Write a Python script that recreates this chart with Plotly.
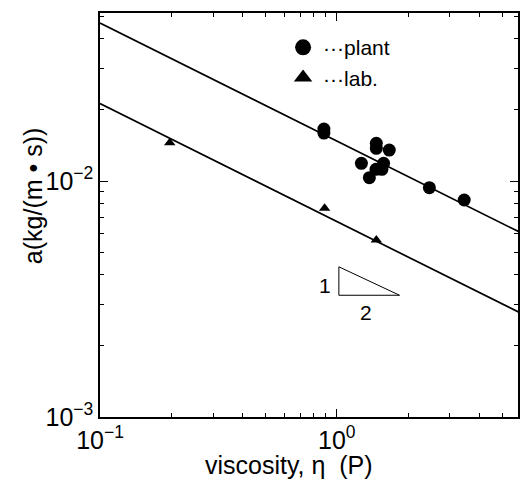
import plotly.graph_objects as go

# ---- data ----
plant_eta = [0.882, 0.882, 1.468, 1.468, 1.665, 1.27, 1.372, 1.576, 1.463, 1.55, 2.459, 3.45]
plant_a = [0.0166, 0.01596, 0.01445, 0.01376, 0.01353, 0.01188, 0.01033, 0.01189, 0.01121, 0.01121, 0.00937, 0.00831]

lab_eta = [0.197, 0.888, 1.468]
lab_a = [0.01453, 0.00766, 0.00562]

fit_eta = [0.1, 6.0]
fit_plant_a = [0.0467, 0.00603]
fit_lab_a = [0.0213, 0.00275]

slope_tri_eta = [1.02, 1.02, 1.84, 1.02]
slope_tri_a = [0.00433, 0.00328, 0.00328, 0.00433]

x_major = [0.1, 1]
x_major_text = ["10<sup>−1</sup>", "10<sup>0</sup>"]
x_minor = [0.2, 0.3, 0.4, 0.5, 0.6, 0.7, 0.8, 0.9, 2, 3, 4, 5]
y_major = [0.001, 0.01]
y_major_text = ["10<sup>−3</sup>", "10<sup>−2</sup>"]
y_minor = [k * 1e-3 for k in range(2, 10)] + [k * 1e-2 for k in range(2, 6)]

FONT = "Liberation Sans, Arial, Helvetica, sans-serif"

fig = go.Figure()

fig.add_trace(go.Scatter(x=fit_eta, y=fit_plant_a, mode="lines",
                         line=dict(color="black", width=1.7), showlegend=False, hoverinfo="skip"))
fig.add_trace(go.Scatter(x=fit_eta, y=fit_lab_a, mode="lines",
                         line=dict(color="black", width=1.7), showlegend=False, hoverinfo="skip"))
fig.add_trace(go.Scatter(x=slope_tri_eta, y=slope_tri_a, mode="lines",
                         line=dict(color="black", width=1), showlegend=False, hoverinfo="skip"))

fig.add_trace(go.Scatter(x=plant_eta, y=plant_a, mode="markers", name="plant",
                         marker=dict(symbol="circle", size=13, color="black"), showlegend=False))
fig.add_trace(go.Scatter(x=lab_eta, y=lab_a, mode="markers", name="lab.",
                         marker=dict(symbol="triangle-up", size=10, color="black"), showlegend=False))

# legend entries
fig.add_trace(go.Scatter(x=[None], y=[None], mode="markers", name="···plant", legendgroup="p",
                         marker=dict(symbol="circle", size=18, color="black")))
fig.add_trace(go.Scatter(x=[None], y=[None], mode="markers", name="···lab.", legendgroup="l",
                         marker=dict(symbol="triangle-up", size=18, color="black")))

axis_common = dict(
    type="log", showgrid=False, zeroline=False,
    showline=True, linecolor="black", linewidth=1.5, mirror="ticks",
    ticks="inside", ticklen=8, tickwidth=1.2, tickcolor="black",
    tickfont=dict(family=FONT, size=25, color="black"),
)

fig.update_xaxes(**axis_common, range=[-1, 0.765], tickvals=x_major, ticktext=x_major_text,
                 minor=dict(tickvals=x_minor, ticks="inside", ticklen=4, tickwidth=1, tickcolor="black"))
fig.update_yaxes(**axis_common, range=[-3, -1.288], tickvals=y_major, ticktext=y_major_text,
                 minor=dict(tickvals=y_minor, ticks="inside", ticklen=4, tickwidth=1, tickcolor="black"))

fig.add_annotation(text="viscosity, η  (P)", xref="paper", yref="paper", x=0.452, y=-0.119,
                   xanchor="center", yanchor="middle",
                   showarrow=False, font=dict(family=FONT, size=25, color="black"))
fig.add_annotation(text="a(kg/(m • s))", xref="paper", yref="paper", x=-0.16, y=0.547,
                   xanchor="center", yanchor="middle",
                   textangle=-90, showarrow=False, font=dict(family=FONT, size=25, color="black"))
fig.add_annotation(text="1", x=-0.0504, y=-2.4407, showarrow=False,
                   xanchor="center", yanchor="middle",
                   font=dict(family=FONT, size=21, color="black"))
fig.add_annotation(text="2", x=0.1218, y=-2.559, showarrow=False,
                   xanchor="center", yanchor="middle",
                   font=dict(family=FONT, size=21, color="black"))

fig.update_layout(
    width=520, height=481,
    margin=dict(l=100, r=0, t=13, b=64),
    paper_bgcolor="white", plot_bgcolor="white",
    legend=dict(x=0.438, y=0.965, xanchor="left", yanchor="top",
                bgcolor="rgba(0,0,0,0)", borderwidth=0, tracegroupgap=0,
                font=dict(family=FONT, size=21, color="black")),
    showlegend=True,
)

fig.write_html("out.html", config={"displayModeBar": False},
               post_script="document.body.style.margin='0';document.body.style.overflow='hidden';")
